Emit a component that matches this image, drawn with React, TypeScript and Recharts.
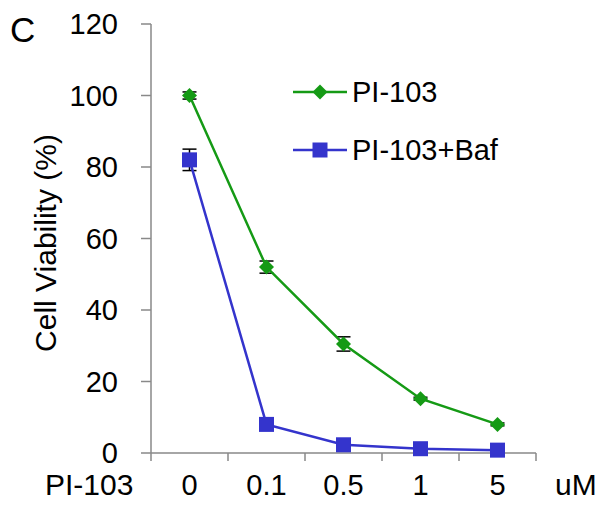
import { LineChart, Line, XAxis, YAxis, ErrorBar, Legend } from 'recharts'

// ── Data ──────────────────────────────────────────────────────────────────────

const DOSES         = ['0', '0.1', '0.5', '1', '5']
const PI103         = [100, 52, 30.5, 15.2, 8]
const PI103_ERR     = [1, 1.7, 2, 0.4, 0.4]
const PI103_BAF     = [82, 8, 2.3, 1.2, 0.8]
const PI103_BAF_ERR = [3, 0.6, 0.4, 0.3, 0.3]
const Y_TICKS       = [0, 20, 40, 60, 80, 100, 120]

// ── Styles ────────────────────────────────────────────────────────────────────

const FONT   = '"Liberation Sans", Arial, sans-serif'
const GREEN  = '#159a15'
const BLUE   = '#3434cc'
const AXIS   = '#898989'
const W      = 600
const H      = 505
const MARGIN = { top: 24, right: 64, bottom: 0, left: 0 }
const Y_W    = 151
const X_H    = 52
const BAND   = (W - MARGIN.left - MARGIN.right - Y_W) / DOSES.length

const SERIES = [
  { key: 'pi',  err: 'piErr',  name: 'PI-103',     color: GREEN, shape: 'diamond' },
  { key: 'baf', err: 'bafErr', name: 'PI-103+Baf', color: BLUE,  shape: 'square' },
]

const chartData = DOSES.map((dose, i) => ({
  x: i + 0.5,
  dose,
  pi: PI103[i],
  piErr: PI103_ERR[i],
  baf: PI103_BAF[i],
  bafErr: PI103_BAF_ERR[i],
}))
const X_TICKS = DOSES.map((_, i) => i).concat(DOSES.length)

// ── Markers ───────────────────────────────────────────────────────────────────

function Marker({ shape, cx, cy, color }: { shape: string; cx: number; cy: number; color: string }) {
  if (shape === 'diamond') {
    const r = 7.5
    return <path d={`M${cx},${cy - r}L${cx + r},${cy}L${cx},${cy + r}L${cx - r},${cy}Z`} fill={color} />
  }
  const s = 7.5
  return <rect x={cx - s} y={cy - s} width={s * 2} height={s * 2} fill={color} />
}

const makeDot = (shape: string, color: string) => (p: any) =>
  <Marker key={`${shape}-${p.index}`} shape={shape} cx={p.cx} cy={p.cy} color={color} />

// ── Ticks & legend ────────────────────────────────────────────────────────────

function DoseTick({ x, y, payload }: any) {
  const label = DOSES[payload.value]
  if (label == null) return <g />
  return (
    <text x={x + BAND / 2} y={y} dy="0.71em" textAnchor="middle" fontSize={29} fill="#000" fontFamily={FONT}>
      {label}
    </text>
  )
}

function SeriesLegend() {
  return (
    <div style={{ fontFamily: FONT, fontSize: 29, color: '#000' }}>
      {SERIES.map(s => (
        <div key={s.key} style={{ display: 'flex', alignItems: 'center', height: 58 }}>
          <svg width={54} height={20}>
            <line x1={0} x2={54} y1={10} y2={10} stroke={s.color} strokeWidth={2.5} />
            <Marker shape={s.shape} cx={27} cy={10} color={s.color} />
          </svg>
          <span style={{ marginLeft: 5, whiteSpace: 'nowrap' }}>{s.name}</span>
        </div>
      ))}
    </div>
  )
}

// ── Chart ─────────────────────────────────────────────────────────────────────

export default function App() {
  return (
    <div style={{ position: 'absolute', left: 0, top: 0, width: W, height: H, background: '#fff' }}>
      <LineChart width={W} height={H} data={chartData} margin={MARGIN}>
        <XAxis
          dataKey="x" type="number" domain={[0, DOSES.length]} ticks={X_TICKS}
          height={X_H} tickSize={8} tickMargin={13}
          axisLine={{ stroke: AXIS, strokeWidth: 1.5 }} tickLine={{ stroke: AXIS, strokeWidth: 1.5 }}
          tick={<DoseTick />} interval={0}
        />
        <YAxis
          domain={[0, 120]} ticks={Y_TICKS} width={Y_W} tickSize={10} tickMargin={23}
          axisLine={{ stroke: AXIS, strokeWidth: 1.5 }} tickLine={{ stroke: AXIS, strokeWidth: 1.5 }}
          tick={{ fill: '#000', fontSize: 29, fontFamily: FONT }} interval={0}
        />
        <Legend
          layout="vertical" align="center" verticalAlign="middle"
          wrapperStyle={{ top: 63, left: 293, width: 'auto', height: 'auto' }}
          content={() => <SeriesLegend />}
        />
        {/* error bars first, so the markers sit on top of them */}
        {SERIES.map(s => (
          <Line
            key={`${s.key}-err`} dataKey={s.key} legendType="none" type="linear"
            stroke="none" dot={false} activeDot={false} isAnimationActive={false}
          >
            <ErrorBar dataKey={s.err} direction="y" width={7} stroke="#000" strokeWidth={1.5} isAnimationActive={false} />
          </Line>
        ))}
        {SERIES.map(s => (
          <Line
            key={s.key} dataKey={s.key} name={s.name} type="linear"
            stroke={s.color} strokeWidth={2.5} dot={makeDot(s.shape, s.color)} activeDot={false}
            isAnimationActive={false}
          />
        ))}
      </LineChart>
      <svg width={W} height={H} style={{ position: 'absolute', left: 0, top: 0, pointerEvents: 'none' }} fontFamily={FONT} fill="#000">
        <text x={10} y={42} fontSize={35}>C</text>
        <text transform="translate(56,243) rotate(-90)" textAnchor="middle" fontSize={30}>Cell Viability (%)</text>
        <text x={45} y={495} fontSize={30}>PI-103</text>
        <text x={555} y={495} fontSize={30}>uM</text>
      </svg>
    </div>
  )
}
